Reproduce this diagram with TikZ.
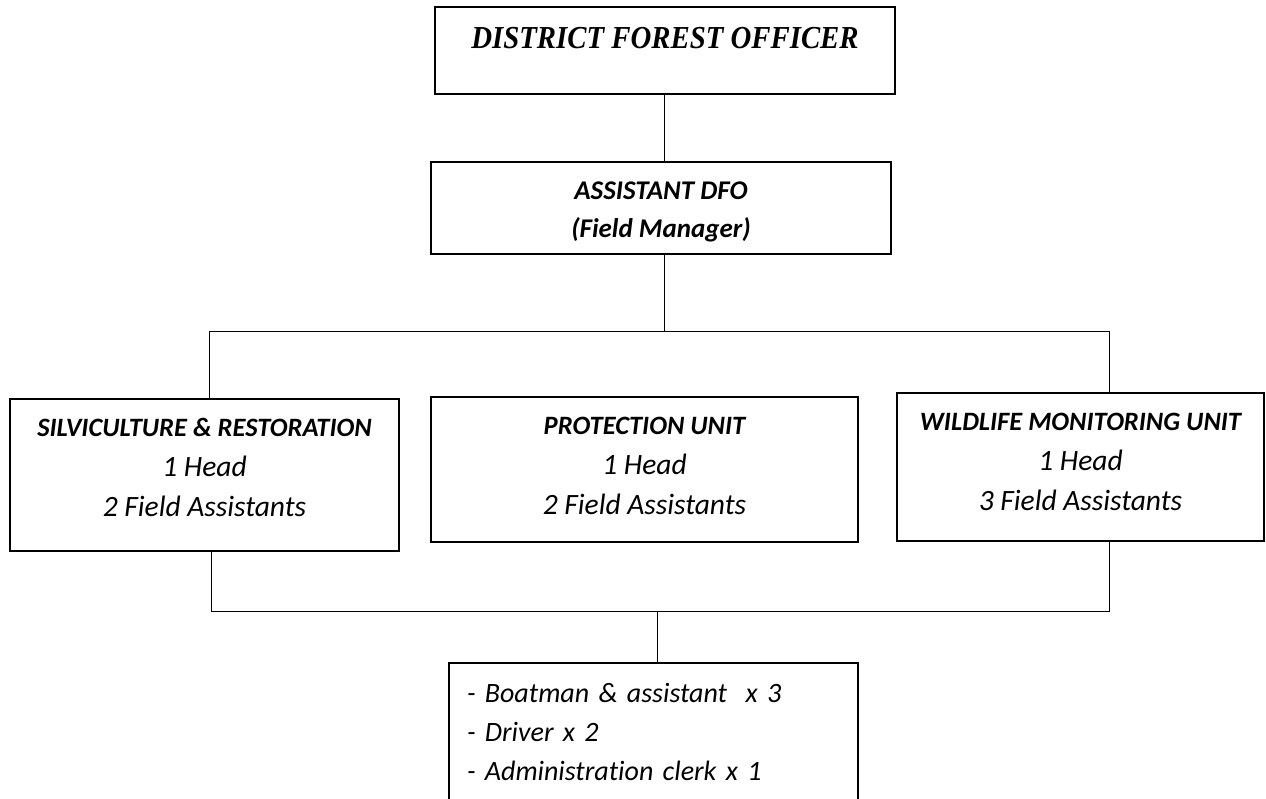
\documentclass[tikz,border=0pt]{standalone}
\usepackage{fontspec}
\setmainfont{Carlito}[Ligatures=NoCommon]
\newfontfamily\chieffont{Liberation Serif}[FakeStretch=0.9]
\tikzstyle{unitbox}=[draw,line width=1.4pt,align=center,inner sep=0pt,font=\fontsize{29.5}{40}\selectfont\itshape]
\tikzstyle{unithead}=[font=\fontsize{26.5}{40}\selectfont\bfseries\itshape]
\tikzstyle{link}=[draw,line width=1pt]
\newcommand{\padbelow}[1]{\rule[-#1]{0pt}{#1}}

\begin{document}
\begin{tikzpicture}[x=1pt,y=-1pt]

    \clip (0,0) rectangle (1266,798);

    % top of the chart
    \node[unitbox, minimum width=460pt, minimum height=87pt,
          font=\chieffont\fontsize{32}{38}\selectfont\bfseries\itshape] (dfo) at (665,50.5)
          {DISTRICT FOREST OFFICER\padbelow{25pt}};
    \node[unitbox, minimum width=460pt, minimum height=92pt,
          font=\fontsize{27}{38}\selectfont\bfseries\itshape] (adfo) at (661,208)
          {\rule{0pt}{26pt}ASSISTANT DFO\\(Field Manager)};

    % the three units
    \foreach \pos/\name/\bw/\bh/\pad/\unit/\fa in {{(204.5,475)/silv/389/152/15/{SILVICULTURE \& RESTORATION}/2},
        {(644.5,469.5)/prot/427/145/7/{PROTECTION UNIT}/2}, {(1080.5,467)/wild/367/148/10/{WILDLIFE MONITORING UNIT}/3}}
        \node[unitbox, minimum width=\bw pt, minimum height=\bh pt] (\name) at \pos
            {{\fontsize{26.5}{40}\selectfont\bfseries \unit}\\1 Head\\\fa{} Field Assistants\padbelow{\pad pt}};

    % support staff
    \node[unitbox, align=left, text width=373pt, minimum width=409pt, minimum height=137pt,
          font=\fontsize{28}{39}\selectfont\itshape] (staff) at (653.5,731.5)
          {- Boatman \& assistant~~x 3\\- Driver x 2\\- Administration clerk x 1};

    % connect the boxes
    \coordinate (hub) at (664,331);
    \coordinate (busL) at (209,331);
    \coordinate (busR) at (1109,331);
    \coordinate (lowL) at (211,611);
    \coordinate (lowM) at (657,611);
    \coordinate (lowR) at (1109,611);

    \path[link] (hub |- dfo.south) -- (hub |- adfo.north);
    \path[link] (hub |- adfo.south) -- (hub);
    \path[link] (busL |- silv.north) -- (busL) -- (busR) -- (busR |- wild.north);
    \path[link] (lowL |- silv.south) -- (lowL) -- (lowR) -- (lowR |- wild.south);
    \path[link] (lowM) -- (lowM |- staff.north);

\end{tikzpicture}
\end{document}
